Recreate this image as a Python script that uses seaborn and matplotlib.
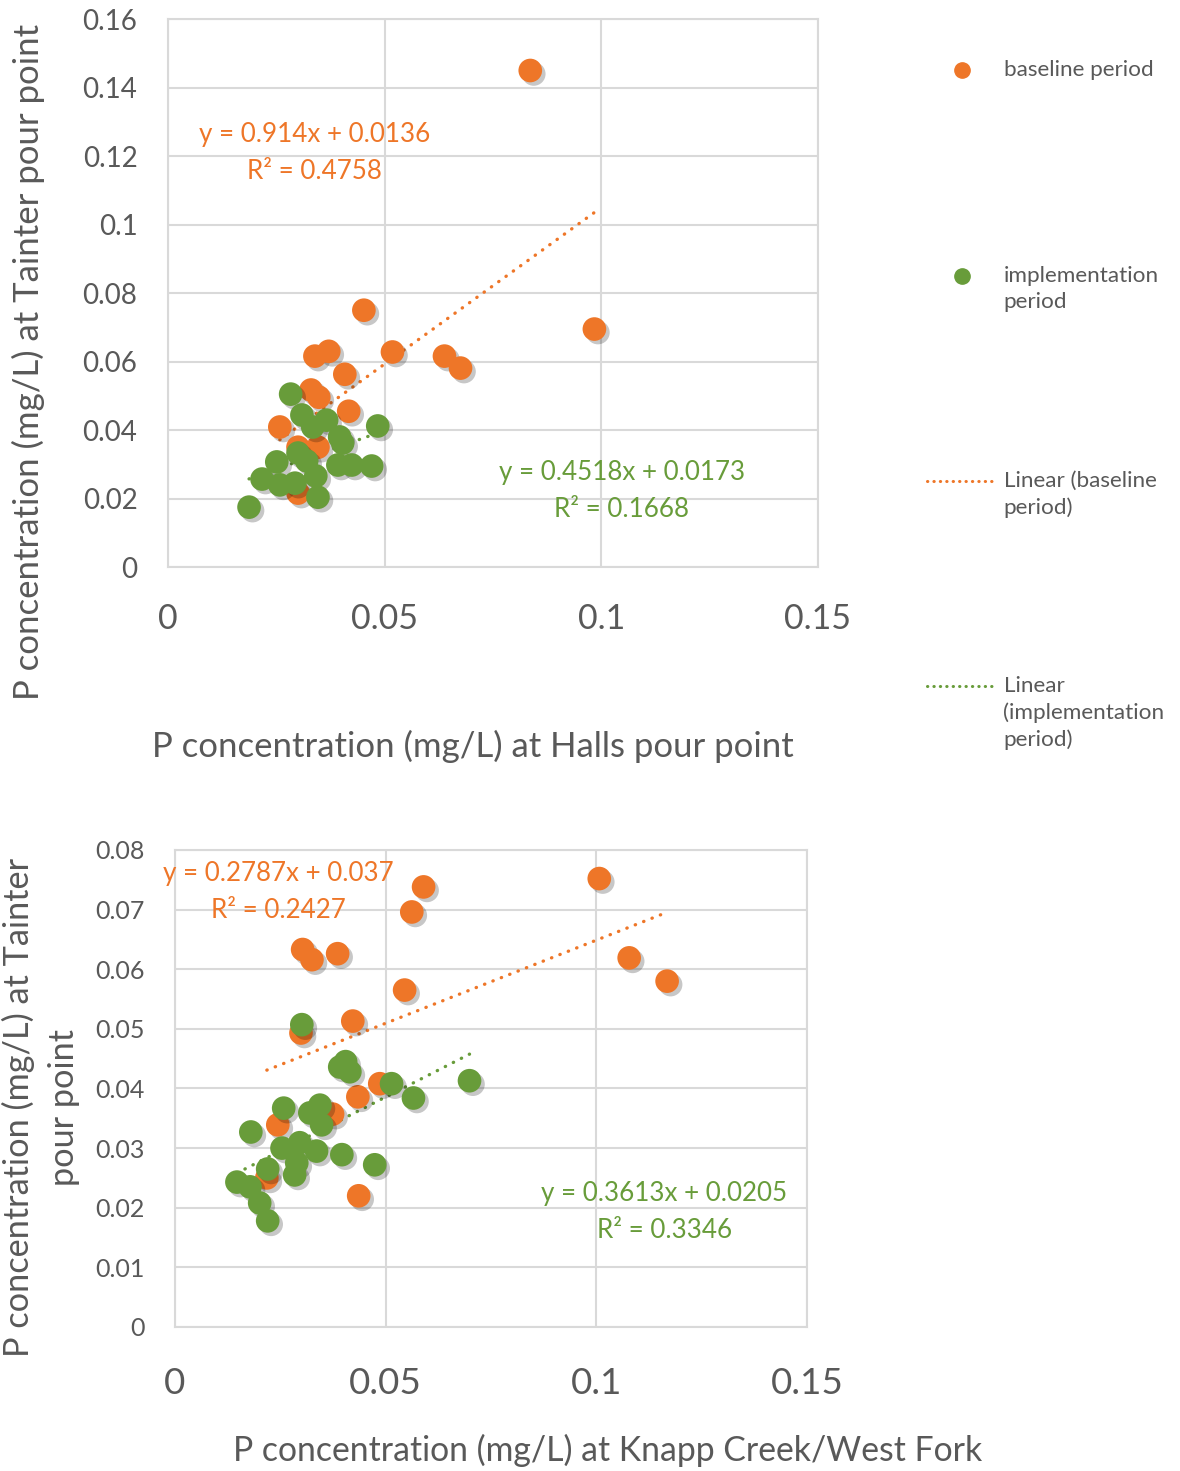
import numpy as np
import pandas as pd
import matplotlib.pyplot as plt
import matplotlib.patheffects as pe
from matplotlib.lines import Line2D
import seaborn as sns

# ── Colours / style ───────────────────────────────────────────────────────────
ORANGE = "#EE7628"
GREEN = "#689C3A"
GRID = "#D9D9D9"
TXT = "#595959"

# ── Data: Halls pour point vs Tainter pour point ─────────────────────────────
halls_base_x = [0.0836, 0.0984, 0.0452, 0.0518, 0.0638, 0.0675, 0.0371, 0.0339,
                0.0408, 0.0330, 0.0348, 0.0417, 0.0258, 0.0300, 0.0346, 0.0300]
halls_base_y = [0.1450, 0.0695, 0.0750, 0.0628, 0.0616, 0.0581, 0.0630, 0.0616,
                0.0563, 0.0517, 0.0496, 0.0455, 0.0409, 0.0350, 0.0350, 0.0216]
halls_impl_x = [0.0283, 0.0309, 0.0334, 0.0366, 0.0484, 0.0396, 0.0403, 0.0251,
                0.0300, 0.0392, 0.0424, 0.0470, 0.0217, 0.0258, 0.0293, 0.0341,
                0.0346, 0.0187, 0.0320]
halls_impl_y = [0.0505, 0.0444, 0.0409, 0.0429, 0.0412, 0.0380, 0.0362, 0.0307,
                0.0333, 0.0298, 0.0298, 0.0295, 0.0257, 0.0240, 0.0245, 0.0266,
                0.0204, 0.0175, 0.0310]
halls_fit_base = [0.914, 0.0136, 0.4758]     # slope, intercept, R²
halls_fit_impl = [0.4518, 0.0173, 0.1668]

# ── Data: Knapp Creek/West Fork vs Tainter pour point ────────────────────────
knapp_base_x = [0.1007, 0.0590, 0.0562, 0.1078, 0.1168, 0.0545, 0.0303, 0.0325,
                0.0386, 0.0422, 0.0299, 0.0486, 0.0434, 0.0374, 0.0244, 0.0218,
                0.0436]
knapp_base_y = [0.0752, 0.0738, 0.0696, 0.0619, 0.0580, 0.0565, 0.0633, 0.0616,
                0.0626, 0.0513, 0.0493, 0.0408, 0.0386, 0.0357, 0.0339, 0.0250,
                0.0220]
knapp_impl_x = [0.0301, 0.0391, 0.0405, 0.0415, 0.0514, 0.0566, 0.0699, 0.0258,
                0.0320, 0.0344, 0.0348, 0.0180, 0.0254, 0.0296, 0.0336, 0.0396,
                0.0474, 0.0289, 0.0284, 0.0220, 0.0147, 0.0178, 0.0201, 0.0220]
knapp_impl_y = [0.0507, 0.0436, 0.0445, 0.0428, 0.0408, 0.0384, 0.0413, 0.0367,
                0.0359, 0.0372, 0.0339, 0.0327, 0.0300, 0.0309, 0.0295, 0.0289,
                0.0272, 0.0275, 0.0255, 0.0265, 0.0243, 0.0235, 0.0208, 0.0178]
knapp_fit_base = [0.2787, 0.037, 0.2427]
knapp_fit_impl = [0.3613, 0.0205, 0.3346]

x_ticks = [0, 0.05, 0.1, 0.15]
x_ticklabels = ["0", "0.05", "0.1", "0.15"]
top_y_ticks = [0, 0.02, 0.04, 0.06, 0.08, 0.1, 0.12, 0.14, 0.16]
top_y_ticklabels = ["0", "0.02", "0.04", "0.06", "0.08", "0.1", "0.12", "0.14", "0.16"]
bot_y_ticks = [0, 0.01, 0.02, 0.03, 0.04, 0.05, 0.06, 0.07, 0.08]
bot_y_ticklabels = ["0", "0.01", "0.02", "0.03", "0.04", "0.05", "0.06", "0.07", "0.08"]

legend_labels = ["baseline period", "implementation\nperiod",
                 "Linear (baseline\nperiod)", "Linear\n(implementation\nperiod)"]

sns.set_theme(style="white")
plt.rcParams["font.family"] = ["Lato", "DejaVu Sans"]

SHADOW = [pe.SimplePatchShadow(offset=(2.5, -2.5), shadow_rgbFace="#000000", alpha=0.22),
          pe.Normal()]


def draw_panel(ax, bx, by, ix, iy, fit_b, fit_i, yticks, ylabels, xsize, ysize, xpad):
    df = pd.concat([
        pd.DataFrame({"x": bx, "y": by, "period": "baseline"}),
        pd.DataFrame({"x": ix, "y": iy, "period": "implementation"}),
    ])
    # trend lines over the range of each series
    for sub, fit, col in [(df[df.period == "baseline"], fit_b, ORANGE),
                          (df[df.period == "implementation"], fit_i, GREEN)]:
        xs = np.array([sub.x.min(), sub.x.max()])
        sns.lineplot(x=xs, y=fit[0] * xs + fit[1], ax=ax, color=col, lw=2.4,
                     linestyle=(0, (0.1, 2.6)), dash_capstyle="round", zorder=3)
    for name, col in [("baseline", ORANGE), ("implementation", GREEN)]:
        sns.scatterplot(data=df[df.period == name], x="x", y="y", ax=ax, color=col,
                        s=290, linewidth=0, zorder=4, legend=False)
        ax.collections[-1].set_path_effects(SHADOW)

    ax.set_xlim(0, 0.15)
    ax.set_ylim(yticks[0], yticks[-1])
    ax.set_xticks(x_ticks, x_ticklabels)
    ax.set_yticks(yticks, ylabels)
    ax.grid(True, color=GRID, lw=1.5)
    ax.set_axisbelow(True)
    for s in ax.spines.values():
        s.set_color(GRID)
        s.set_linewidth(1.5)
    ax.tick_params(axis="x", length=0, labelsize=xsize, labelcolor=TXT, pad=xpad)
    ax.tick_params(axis="y", length=0, labelsize=ysize, labelcolor=TXT, pad=22)


def fit_label(ax, fit, x, y, col):
    ax.text(x, y, f"y = {fit[0]}x + {fit[1]}\nR² = {fit[2]}", transform=ax.transAxes,
            ha="center", va="center", color=col, fontsize=18.7, linespacing=1.6)


fig = plt.figure(figsize=(11.8, 14.71), dpi=100)

# ── Top panel ────────────────────────────────────────────────────────────────
ax1 = fig.add_axes([0.1424, 0.6145, 0.5508, 0.3725])
draw_panel(ax1, halls_base_x, halls_base_y, halls_impl_x, halls_impl_y,
           halls_fit_base, halls_fit_impl, top_y_ticks, top_y_ticklabels, 24.5, 20, 26)
ax1.set_xlabel("P concentration (mg/L) at Halls pour point", fontsize=25, color=TXT)
ax1.xaxis.set_label_coords(0.469, -0.298)
ax1.set_ylabel("P concentration (mg/L) at Tainter pour point", fontsize=25, color=TXT)
ax1.yaxis.set_label_coords(-0.19, 0.374)
fit_label(ax1, halls_fit_base, 0.226, 0.755, ORANGE)
fit_label(ax1, halls_fit_impl, 0.698, 0.139, GREEN)

# ── Bottom panel ─────────────────────────────────────────────────────────────
ax2 = fig.add_axes([0.1483, 0.0979, 0.5356, 0.3243])
draw_panel(ax2, knapp_base_x, knapp_base_y, knapp_impl_x, knapp_impl_y,
           knapp_fit_base, knapp_fit_impl, bot_y_ticks, bot_y_ticklabels, 26.5, 18, 29)
ax2.set_xlabel("P concentration (mg/L) at Knapp Creek/West Fork", fontsize=24.3, color=TXT)
ax2.xaxis.set_label_coords(0.684, -0.224)
ax2.set_ylabel("P concentration (mg/L) at Tainter\npour point", fontsize=24.7, color=TXT,
               linespacing=1.5)
ax2.yaxis.set_label_coords(-0.15, 0.461)
fit_label(ax2, knapp_fit_base, 0.163, 0.912, ORANGE)
fit_label(ax2, knapp_fit_impl, 0.774, 0.241, GREEN)

# ── Legend (one block per entry, evenly spaced like the original) ────────────
handles = [
    Line2D([], [], ls="none", marker="o", ms=11, color=ORANGE, mec=ORANGE),
    Line2D([], [], ls="none", marker="o", ms=11, color=GREEN, mec=GREEN),
    Line2D([], [], color=ORANGE, lw=2.2, linestyle=(0, (0.1, 2.0)), dash_capstyle="round"),
    Line2D([], [], color=GREEN, lw=2.2, linestyle=(0, (0.1, 2.0)), dash_capstyle="round"),
]
tops = [60, 266, 471, 676]
for h, lab, top in zip(handles, legend_labels, tops):
    leg = fig.legend([h], [lab], loc="upper left", bbox_to_anchor=(927 / 1180, 1 - top / 1471),
                     frameon=False, fontsize=16.2, handlelength=3.1, handleheight=1.2,
                     handletextpad=0.3, borderpad=0, borderaxespad=0, labelcolor=TXT)
    for t in leg.get_texts():
        t.set_linespacing(1.4)
    for col in leg._legend_handle_box.get_children():
        for item in col.get_children():
            item.align = "top"

fig.savefig("out.png", dpi=100)
